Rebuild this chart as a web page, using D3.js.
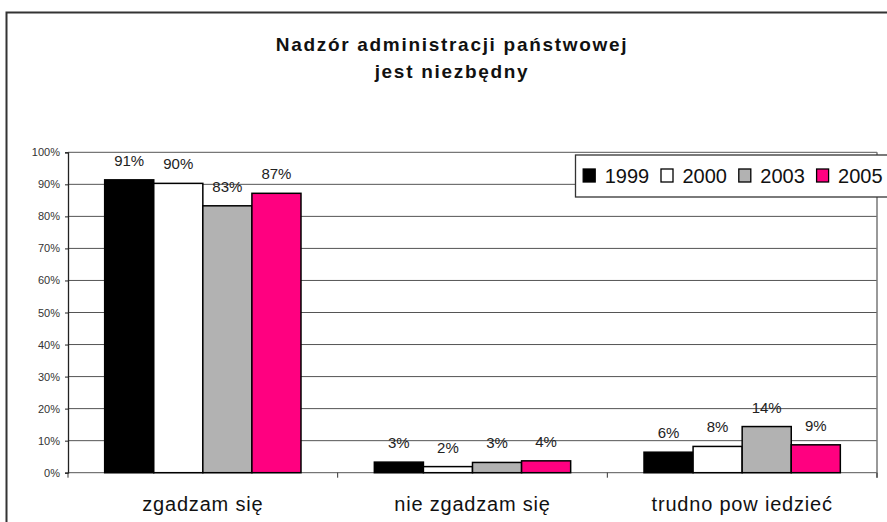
<!DOCTYPE html>
<html>
<head>
<meta charset="utf-8">
<script src="https://cdn.jsdelivr.net/npm/d3@7"></script>
<style>
  body { margin: 0; background: #fff; }
  svg { display: block; font-family: "Liberation Sans", Arial, sans-serif; }
</style>
</head>
<body>
<div id="chart"></div>
<script>
// data
var categories = ["zgadzam się", "nie zgadzam się", "trudno pow iedzieć"];
var years = ["1999", "2000", "2003", "2005"];
var v1999 = [91.4, 3.3, 6.4];
var v2000 = [90.3, 1.9, 8.2];
var v2003 = [83.3, 3.2, 14.4];
var v2005 = [87.2, 3.7, 8.7];
var yTicks = [0, 10, 20, 30, 40, 50, 60, 70, 80, 90, 100];
var colors = ["#000000", "#ffffff", "#b2b2b2", "#ff0080"];

var series = [v1999, v2000, v2003, v2005];

var width = 887, height = 522;
var plot = {left: 68, right: 877, top: 152.3, bottom: 472.7};

var svg = d3.select('#chart')
    .append('svg')
    .attr('width', width)
    .attr('height', height);

// outer frame (runs off the right and bottom edges)
svg.append('rect')
    .attr('x', 6.5)
    .attr('y', 12.5)
    .attr('width', 900)
    .attr('height', 600)
    .attr('fill', 'none')
    .attr('stroke', '#333')
    .attr('stroke-width', 2);

// title
var title = svg.append('text')
    .attr('text-anchor', 'middle')
    .style('font-weight', 'bold')
    .style('font-size', '19px')
    .style('letter-spacing', '1.7px')
    .attr('fill', '#111');
title.append('tspan').attr('x', 452).attr('y', 51).text('Nadzór administracji państwowej');
title.append('tspan').attr('x', 452).attr('y', 78).text('jest niezbędny');

var x0 = d3.scaleBand()
    .domain(categories)
    .range([plot.left, plot.right])
    .paddingInner(0.272)
    .paddingOuter(0.136);

var x1 = d3.scaleBand()
    .domain(years)
    .range([0, x0.bandwidth()]);

var y = d3.scaleLinear()
    .domain([0, 100])
    .range([plot.bottom, plot.top]);

// gridlines
svg.append('g')
    .selectAll('line')
    .data(yTicks)
    .enter()
    .append('line')
    .attr('x1', plot.left)
    .attr('x2', plot.right)
    .attr('y1', function (d) { return y(d); })
    .attr('y2', function (d) { return y(d); })
    .attr('stroke', '#555')
    .attr('stroke-width', 1);

// right border of plot
svg.append('line')
    .attr('x1', plot.right).attr('x2', plot.right)
    .attr('y1', plot.top).attr('y2', plot.bottom + 5)
    .attr('stroke', '#777')
    .attr('stroke-width', 1.5);

// y axis
var yAxis = d3.axisLeft(y)
    .tickValues(yTicks)
    .tickSize(3)
    .tickPadding(5)
    .tickFormat(function (d) { return d + '%'; });

var gy = svg.append('g')
    .attr('transform', 'translate(' + plot.left + ',0)')
    .call(yAxis);
gy.select('.domain').attr('stroke', '#222').attr('stroke-width', 1.3);
gy.selectAll('.tick line').attr('stroke', '#222');
gy.selectAll('.tick text')
    .style('font-size', '11px')
    .attr('fill', '#333')
    .attr('font-family', '"Liberation Sans", Arial, sans-serif');

// x axis: category boundaries ticks
var step = x0.step();
var boundaries = d3.range(categories.length + 1).map(function (i) { return plot.left + i * step; });
svg.append('g')
    .selectAll('line')
    .data(boundaries)
    .enter()
    .append('line')
    .attr('x1', function (d) { return d; })
    .attr('x2', function (d) { return d; })
    .attr('y1', plot.bottom)
    .attr('y2', plot.bottom + 5)
    .attr('stroke', '#333');

svg.append('g')
    .selectAll('text')
    .data(categories)
    .enter()
    .append('text')
    .attr('x', function (d) { return x0(d) + x0.bandwidth() / 2; })
    .attr('y', 511)
    .attr('text-anchor', 'middle')
    .style('font-size', '20px')
    .style('letter-spacing', '0.8px')
    .attr('fill', '#111')
    .text(function (d) { return d; });

// bars
var groups = svg.append('g')
    .selectAll('g')
    .data(categories)
    .enter()
    .append('g')
    .attr('transform', function (d) { return 'translate(' + x0(d) + ',0)'; });

groups.selectAll('rect')
    .data(function (d, i) {
        return years.map(function (yr, j) { return {year: yr, value: series[j][i], color: colors[j]}; });
    })
    .enter()
    .append('rect')
    .attr('x', function (d) { return x1(d.year); })
    .attr('y', function (d) { return y(d.value); })
    .attr('width', x1.bandwidth())
    .attr('height', function (d) { return plot.bottom - y(d.value); })
    .attr('fill', function (d) { return d.color; })
    .attr('stroke', '#000')
    .attr('stroke-width', 1.5);

groups.selectAll('text')
    .data(function (d, i) {
        return years.map(function (yr, j) { return {year: yr, value: series[j][i]}; });
    })
    .enter()
    .append('text')
    .attr('x', function (d) { return x1(d.year) + x1.bandwidth() / 2; })
    .attr('y', function (d) { return y(d.value) - 14; })
    .attr('text-anchor', 'middle')
    .style('font-size', '15px')
    .attr('fill', '#222')
    .text(function (d) { return Math.round(d.value) + '%'; });

// legend (runs off the right edge)
var legend = svg.append('g');
legend.append('rect')
    .attr('x', 575.5)
    .attr('y', 155)
    .attr('width', 330)
    .attr('height', 42)
    .attr('fill', '#fff')
    .attr('stroke', '#333')
    .attr('stroke-width', 1.3);

var items = legend.selectAll('g.item')
    .data(years)
    .enter()
    .append('g')
    .attr('class', 'item')
    .attr('transform', function (d, i) { return 'translate(' + (582.7 + i * 77.8) + ',0)'; });

items.append('rect')
    .attr('x', 0.5)
    .attr('y', 169)
    .attr('width', 12)
    .attr('height', 13)
    .attr('fill', function (d, i) { return colors[i]; })
    .attr('stroke', '#000')
    .attr('stroke-width', 1.3);

items.append('text')
    .attr('x', 22)
    .attr('y', 183)
    .style('font-size', '20px')
    .attr('fill', '#111')
    .text(function (d) { return d; });
</script>
</body>
</html>
